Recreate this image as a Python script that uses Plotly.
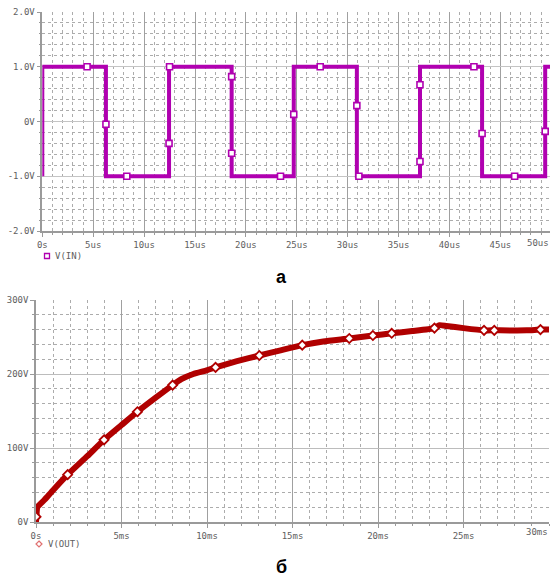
import plotly.graph_objects as go

W, H = 550, 579

# ---------------- data: panel "а" (V(IN) square wave) ----------------
in_edges_t = [0, 6.25, 12.45, 18.6, 24.7, 30.9, 37.1, 43.2, 49.4]   # us
in_levels = [1, -1, 1, -1, 1, -1, 1, -1, 1]                         # V after each edge
in_start_v = -1
in_end_t = 50
in_marker_t = [4.4, 6.25, 8.3, 12.45, 12.5, 18.6, 18.6, 23.4, 24.7, 27.3,
               30.9, 31.1, 37.1, 37.1, 42.4, 43.2, 46.4, 49.4]
in_marker_v = [1, -0.05, -1, -0.4, 1, 0.82, -0.58, -1, 0.13, 1,
               0.29, -1, -0.73, 0.67, 1, -0.22, -1, -0.18]
in_xticks = [0, 5, 10, 15, 20, 25, 30, 35, 40, 45]
in_xtext = ["0s", "5us", "10us", "15us", "20us", "25us", "30us", "35us", "40us", "45us"]
in_yticks = [-2, -1, 0, 1, 2]
in_ytext = ["-2.0V", "-1.0V", "0V", "1.0V", "2.0V"]

# ---------------- data: panel "б" (V(OUT)) ----------------
out_t = [0, 0.03, 0.08, 0.5, 1.0, 1.85, 3.0, 3.98, 5.0, 5.93, 7.0, 7.99,
         8.5, 9.2, 9.98, 10.5, 11.7, 13.06, 14.3, 15.57, 16.8, 18.32, 19.7,
         20.8, 22.0, 23.3, 23.6, 24.0, 25.0, 26.2, 26.8, 28.7, 29.5, 30.0]
out_v = [0, 10, 20, 30, 43, 64, 89, 111, 131, 149, 168, 185,
         193, 200, 205, 209, 217, 225, 232, 239, 244, 248, 252,
         255, 258, 262, 266, 265, 262, 259, 259, 259, 260, 260]
out_marker_t = [0, 1.85, 3.98, 5.93, 7.99, 10.5, 13.06, 15.57, 18.32, 19.7,
                20.8, 23.3, 26.2, 26.8, 29.5]
out_marker_v = [7, 64, 111, 149, 185, 209, 225, 239, 248, 252,
                255, 262, 259, 259, 260]
out_xticks = [0, 5, 10, 15, 20, 25]
out_xtext = ["0s", "5ms", "10ms", "15ms", "20ms", "25ms"]
out_yticks = [0, 100, 200, 300]
out_ytext = ["0V", "100V", "200V", "300V"]

MAG = "#b000b0"
RED = "#b00000"
TXT = "#606060"
TICKFONT = dict(family="DejaVu Sans Mono", size=9, color=TXT)


def px(x):
    return x / W


def py(y):
    return 1 - y / H


# step path from edges
xs = [0]
ys = [in_start_v]
for t, lv in zip(in_edges_t, in_levels):
    xs += [t, t]
    ys += [ys[-1], lv]
xs.append(in_end_t)
ys.append(ys[-1])

fig = go.Figure()
fig.add_trace(go.Scatter(x=xs, y=ys, mode="lines", xaxis="x", yaxis="y",
                         line=dict(color=MAG, width=4), showlegend=False))
fig.add_trace(go.Scatter(x=in_marker_t, y=in_marker_v, mode="markers", xaxis="x", yaxis="y",
                         marker=dict(symbol="square", size=6, color="white",
                                     line=dict(color=MAG, width=1.6)),
                         showlegend=False))
fig.add_trace(go.Scatter(x=out_t, y=out_v, mode="lines", xaxis="x2", yaxis="y2",
                         line=dict(color=RED, width=6, shape="spline", smoothing=0.5),
                         showlegend=False))
fig.add_trace(go.Scatter(x=out_marker_t, y=out_marker_v, mode="markers", xaxis="x2", yaxis="y2",
                         marker=dict(symbol="diamond", size=7, color="white",
                                     line=dict(color=RED, width=1.8)),
                         showlegend=False))


def axis_style(dtick_minor, gridcolor):
    return dict(
        automargin=False,
        showline=True, linecolor="#9a9a9a", linewidth=1.5,
        showgrid=True, gridcolor=gridcolor, gridwidth=1.2,
        ticks="outside", ticklen=4, tickcolor="#9a9a9a", tickwidth=1,
        zeroline=False, tickfont=TICKFONT, fixedrange=True,
        minor=dict(dtick=dtick_minor, showgrid=True, gridcolor="#acacac",
                   griddash="dot", gridwidth=1, ticks="outside", ticklen=2,
                   tickcolor="#9a9a9a"),
    )


xa = axis_style(1, "#a0a0a0")
xa.update(domain=[px(42.3), 1.0], range=[0, (550 - 42.3) / 10.18], anchor="y",
          tickmode="array", tickvals=in_xticks, ticktext=in_xtext)
ya = axis_style(0.2, "#c4c4c4")
ya.update(domain=[py(231), py(12)], range=[-2, 2], anchor="x",
          tickmode="array", tickvals=in_yticks, ticktext=in_ytext)
xa2 = axis_style(1, "#a0a0a0")
xa2.update(domain=[px(36), px(549)], range=[0, 30], anchor="y2",
           tickmode="array", tickvals=out_xticks, ticktext=out_xtext)
ya2 = axis_style(20, "#bcbcbc")
ya2.update(domain=[py(522), py(300)], range=[0, 300], anchor="x2",
           tickmode="array", tickvals=out_yticks, ticktext=out_ytext)

annotations = [
    dict(x=px(538), y=py(243), xref="paper", yref="paper", text="50us",
         showarrow=False, font=TICKFONT, xanchor="center", yanchor="middle"),
    dict(x=px(537), y=py(532), xref="paper", yref="paper", text="30ms",
         showarrow=False, font=TICKFONT, xanchor="center", yanchor="middle"),
    dict(x=px(53), y=py(256), xref="paper", yref="paper", text="V(IN)",
         showarrow=False, font=TICKFONT, xanchor="left", yanchor="middle"),
    dict(x=px(46), y=py(544), xref="paper", yref="paper", text="V(OUT)",
         showarrow=False, font=TICKFONT, xanchor="left", yanchor="middle"),
    dict(x=px(281), y=py(277), xref="paper", yref="paper", text="<b>а</b>",
         showarrow=False, font=dict(family="Liberation Sans", size=18, color="black"),
         xanchor="center", yanchor="middle"),
    dict(x=px(281), y=py(567), xref="paper", yref="paper", text="<b>б</b>",
         showarrow=False, font=dict(family="Liberation Sans", size=18, color="black"),
         xanchor="center", yanchor="middle"),
]

shapes = [
    dict(type="rect", xref="paper", yref="paper",
         x0=px(44.5), x1=px(49.5), y0=py(258.5), y1=py(253.5),
         line=dict(color=MAG, width=1.3), fillcolor="white"),
    dict(type="path", xref="paper", yref="paper",
         path=f"M {px(39)} {py(541)} L {px(42)} {py(544)} L {px(39)} {py(547)} L {px(36)} {py(544)} Z",
         line=dict(color="#e07070", width=1.2), fillcolor="white"),
]

fig.update_layout(
    width=W, height=H,
    margin=dict(l=0, r=0, t=0, b=0, autoexpand=False),
    paper_bgcolor="white", plot_bgcolor="white",
    xaxis=xa, yaxis=ya, xaxis2=xa2, yaxis2=ya2,
    annotations=annotations, shapes=shapes,
    showlegend=False,
)

fig.write_html("out.html", config={"displayModeBar": False},
               post_script="document.body.style.margin='0';document.body.style.overflow='hidden';")
